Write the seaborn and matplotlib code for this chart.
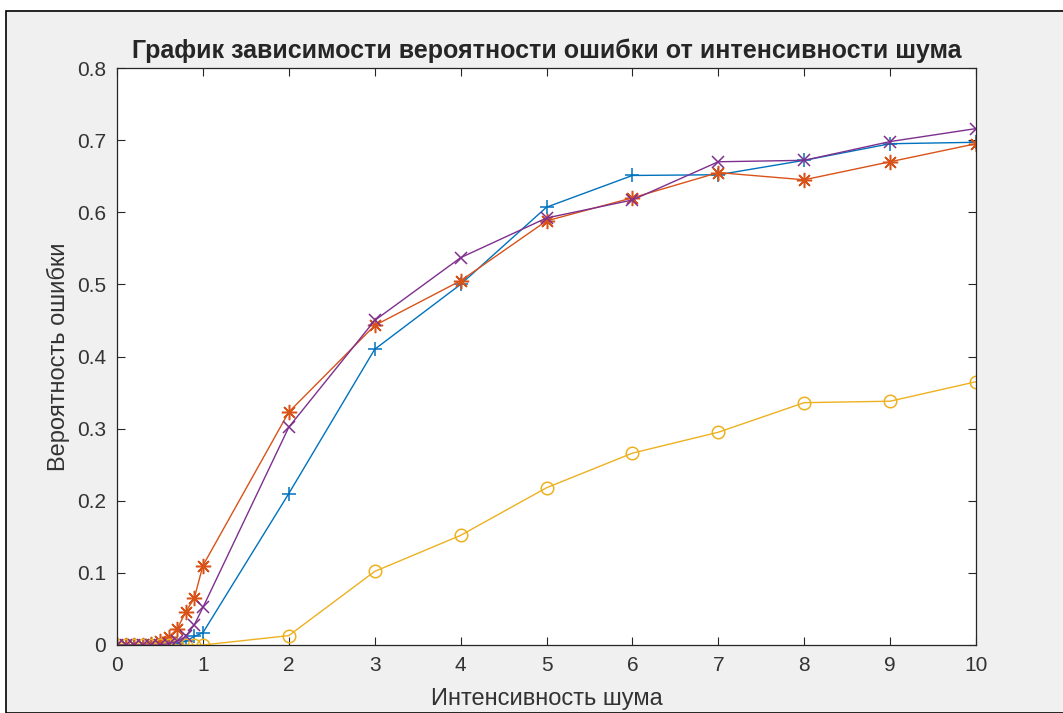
import matplotlib
matplotlib.use("Agg")
import matplotlib.pyplot as plt
import seaborn as sns
import pandas as pd
import numpy as np
from matplotlib.patches import Rectangle

# DATA
noise = [0, 0.1, 0.2, 0.3, 0.4, 0.5, 0.6, 0.7, 0.8, 0.9, 1, 2, 3, 4, 5, 6, 7, 8, 9, 10]
p_blue = [0, 0, 0, 0, 0, 0, 0, 0.002, 0.005, 0.012, 0.017,
          0.21, 0.41, 0.5, 0.607, 0.651, 0.652, 0.672, 0.695, 0.697]
p_orange = [0, 0, 0, 0, 0.002, 0.005, 0.011, 0.022, 0.046, 0.065, 0.11,
            0.323, 0.443, 0.505, 0.588, 0.62, 0.655, 0.645, 0.67, 0.695]
p_yellow = [0, 0, 0, 0, 0, 0, 0, 0, 0, 0, 0,
            0.013, 0.102, 0.152, 0.218, 0.266, 0.295, 0.336, 0.338, 0.365]
p_purple = [0, 0, 0, 0, 0, 0, 0.002, 0.005, 0.012, 0.028, 0.052,
            0.302, 0.45, 0.537, 0.592, 0.617, 0.67, 0.672, 0.698, 0.716]

# matlab style markers: +, asterisk, open circle, x
series = [("blue", p_blue, "#0072BD", "+", 10),
          ("orange", p_orange, "#D95319", (8, 2, 0), 11),
          ("yellow", p_yellow, "#EDB120", "o", 9),
          ("purple", p_purple, "#7E2F8E", "x", 9)]

sns.set_style("ticks")
plt.rcParams['font.family'] = ['Liberation Sans', 'DejaVu Sans']

fig = plt.figure(figsize=(10.63, 7.13), dpi=100, facecolor="white")
# gray window area with black frame
fig.patches.append(Rectangle((6 / 1063, 0), 1.0, 1 - 11 / 713, transform=fig.transFigure,
                             facecolor="#F0F0F0", edgecolor="black", linewidth=1.2, zorder=-10))

ax = fig.add_axes([117 / 1063, 68 / 713, (976 - 117) / 1063, (645 - 68) / 713])
ax.set_zorder(5)
ax.set_facecolor("white")

for name, vals, col, mk, ms in series:
    df = pd.DataFrame({"x": noise, "y": vals})
    sns.lineplot(data=df, x="x", y="y", ax=ax, color=col, linewidth=1.0,
                 marker=mk, markersize=ms,
                 markerfacecolor="none" if mk == "o" else col,
                 markeredgecolor=col, markeredgewidth=1.1)

ax.set_xlim(0, 10)
ax.set_ylim(0, 0.8)
ax.set_xticks(np.arange(0, 11, 1))
ax.set_yticks(np.arange(0, 0.81, 0.1))
ax.set_yticklabels(["0"] + ["%.1f" % v for v in np.arange(0.1, 0.81, 0.1)])
ax.tick_params(direction="in", top=True, right=True, length=6, width=0.8,
               labelsize=15, colors="#262626", labelcolor="#333333")
ax.tick_params(axis="x", pad=8)
ax.tick_params(axis="y", pad=8)
for s in ax.spines.values():
    s.set_color("#262626")
    s.set_linewidth(0.9)

ax.set_title("График зависимости вероятности ошибки от интенсивности шума",
             fontsize=18, fontweight="bold", pad=7)
ax.set_xlabel("Интенсивность шума", fontsize=17, color="#333333", labelpad=9)
ax.set_ylabel("Вероятность ошибки", fontsize=17, color="#333333", labelpad=5)

fig.savefig("out.png", dpi=100, facecolor=fig.get_facecolor())
